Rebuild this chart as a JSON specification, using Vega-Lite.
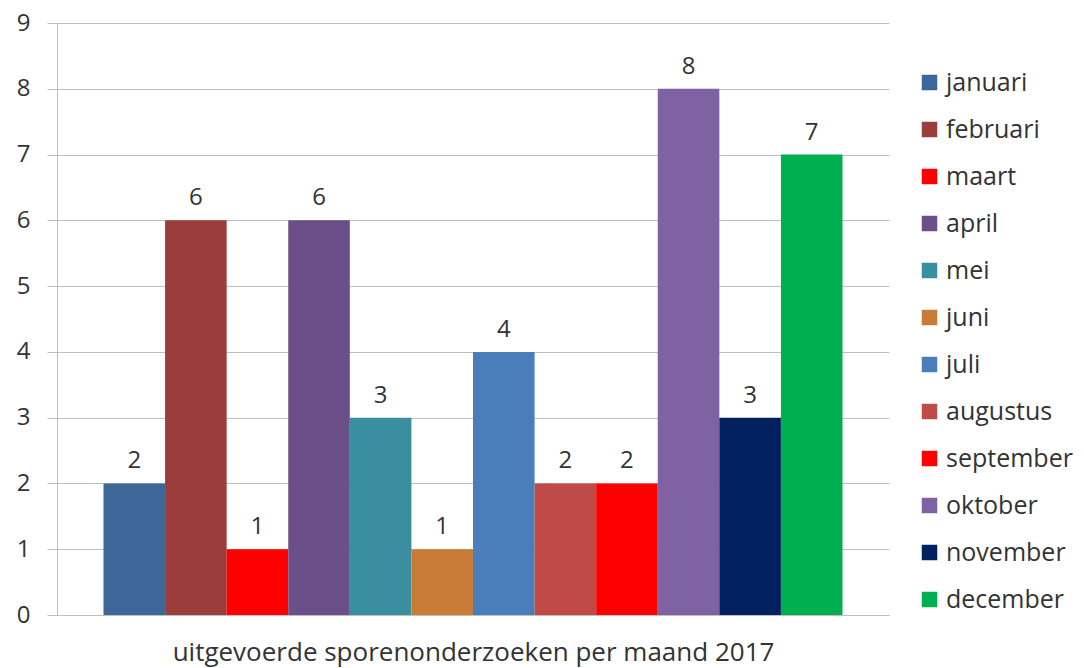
{
  "$schema": "https://vega.github.io/schema/vega-lite/v6.json",
  "width": 832,
  "height": 592,
  "autosize": {"type": "none"},
  "padding": {"left": 57, "top": 23, "right": 195, "bottom": 53},
  "background": "white",
  "config": {
    "font": "Open Sans",
    "view": {"stroke": null}
  },
  "data": {
    "values": [
      {"maand": "januari", "aantal": 2},
      {"maand": "februari", "aantal": 6},
      {"maand": "maart", "aantal": 1},
      {"maand": "april", "aantal": 6},
      {"maand": "mei", "aantal": 3},
      {"maand": "juni", "aantal": 1},
      {"maand": "juli", "aantal": 4},
      {"maand": "augustus", "aantal": 2},
      {"maand": "september", "aantal": 2},
      {"maand": "oktober", "aantal": 8},
      {"maand": "november", "aantal": 3},
      {"maand": "december", "aantal": 7}
    ]
  },
  "encoding": {
    "x": {
      "field": "maand",
      "type": "nominal",
      "sort": null,
      "scale": {"paddingInner": 0, "paddingOuter": 0.755},
      "axis": {
        "labels": false,
        "ticks": false,
        "domainColor": "#BFBFBF",
        "title": "uitgevoerde sporenonderzoeken per maand 2017",
        "titleFont": "Open Sans",
        "titleFontSize": 26,
        "titleFontWeight": "normal",
        "titleColor": "#333333",
        "titlePadding": 24
      }
    },
    "y": {
      "field": "aantal",
      "type": "quantitative",
      "scale": {"domain": [0, 9], "nice": false},
      "axis": {
        "title": null,
        "values": [0, 1, 2, 3, 4, 5, 6, 7, 8, 9],
        "labelOverlap": false,
        "grid": true,
        "gridColor": "#BFBFBF",
        "gridWidth": 1.2,
        "domainColor": "#BFBFBF",
        "tickColor": "#BFBFBF",
        "tickSize": 10,
        "labelFontSize": 24,
        "labelColor": "#333333",
        "labelPadding": 17,
        "labelFont": "Open Sans"
      }
    }
  },
  "layer": [
    {
      "mark": {"type": "bar"},
      "encoding": {
        "color": {
          "field": "maand",
          "type": "nominal",
          "sort": null,
          "scale": {
            "domain": ["januari", "februari", "maart", "april", "mei", "juni", "juli", "augustus", "september", "oktober", "november", "december"],
            "range": ["#3D6699", "#9B3D3A", "#FF0000", "#6A4F89", "#3A8EA0", "#C97C37", "#4A7EBB", "#BE4B48", "#FF0000", "#7E62A1", "#002060", "#00B050"]
          },
          "legend": {
            "title": null,
            "orient": "none",
            "legendX": 860,
            "legendY": 47,
            "symbolType": "square",
            "symbolSize": 240,
            "symbolStrokeWidth": 0,
            "labelFontSize": 25,
            "labelFont": "Open Sans",
            "labelColor": "#333333",
            "labelOffset": 4,
            "rowPadding": 21,
            "labelLimit": 300
          }
        }
      }
    },
    {
      "mark": {"type": "text", "dy": -22, "fontSize": 24, "color": "#333333", "font": "Open Sans"},
      "encoding": {
        "text": {"field": "aantal", "type": "quantitative"}
      }
    }
  ]
}
